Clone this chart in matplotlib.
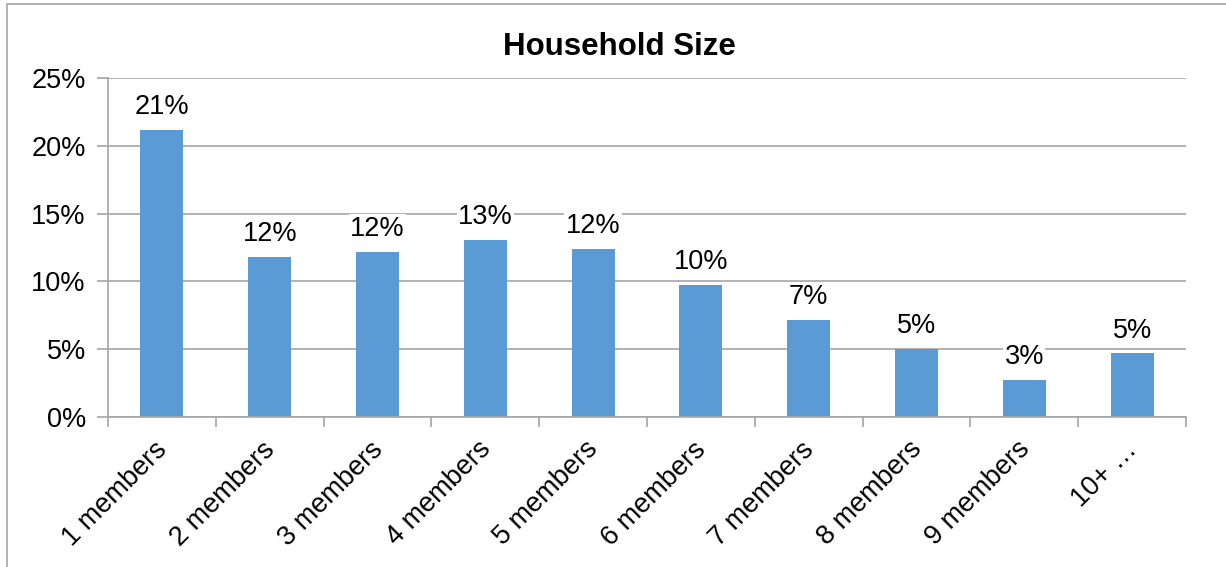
import matplotlib.pyplot as plt
from matplotlib.patches import Rectangle
from matplotlib.transforms import ScaledTranslation

plt.rcParams['font.family'] = ['Liberation Sans', 'DejaVu Sans']

categories = ['1 members', '2 members', '3 members', '4 members', '5 members',
              '6 members', '7 members', '8 members', '9 members', '10+ \u2026']
values = [21.2, 11.8, 12.2, 13.05, 12.4, 9.75, 7.15, 5.0, 2.75, 4.7]
labels = ['21%', '12%', '12%', '13%', '12%', '10%', '7%', '5%', '3%', '5%']

fig = plt.figure(figsize=(12.26, 5.67), dpi=100)
ax = fig.add_axes([0.0881, 0.2646, 0.8793, 0.5978])

# chart area border
fig.patches.append(Rectangle((0.0057, -0.01), 1.0, 1.001 - 0.0088 + 0.01,
                             transform=fig.transFigure, fill=False,
                             edgecolor='#a6a6a6', linewidth=1.2))

x = range(len(categories))
ax.bar(x, values, width=0.4, color='#5b9bd5', zorder=2)

for xi, v, lab in zip(x, values, labels):
    ax.annotate(lab, (xi, v), xytext=(0, 7), textcoords='offset points',
                ha='center', va='bottom', fontsize=19.5, zorder=3,
                bbox=dict(facecolor='white', edgecolor='none', pad=1.0))

ax.set_xlim(-0.5, len(categories) - 0.5)
ax.set_ylim(0, 25)
ax.set_yticks([0, 5, 10, 15, 20, 25])
ax.set_yticklabels(['0%', '5%', '10%', '15%', '20%', '25%'], fontsize=19.5)
ax.yaxis.grid(True, color='#a6a6a6', linewidth=1.2, zorder=0)
ax.set_axisbelow(True)

ax.set_xticks(list(x))
ax.set_xticklabels(categories, rotation=45, ha='right', rotation_mode='anchor',
                   fontsize=19.5)
ax.tick_params(axis='x', length=0, pad=14)
shift = ScaledTranslation(-0.08, 0, fig.dpi_scale_trans)
for t in ax.get_xticklabels():
    t.set_transform(t.get_transform() + shift)
ax.set_xticks([i - 0.5 for i in range(len(categories) + 1)], minor=True)
ax.tick_params(axis='x', which='minor', length=7, color='#a6a6a6', width=1.2)
ax.tick_params(axis='y', length=8, color='#a6a6a6', width=1.2, pad=8)

for side in ['top', 'right']:
    ax.spines[side].set_visible(False)
for side in ['left', 'bottom']:
    ax.spines[side].set_color('#a6a6a6')
    ax.spines[side].set_linewidth(1.2)

fig.text(0.505, 0.917, 'Household Size', ha='center', va='center',
         fontsize=22.5, fontweight='bold')

fig.savefig('out.png', dpi=100)
